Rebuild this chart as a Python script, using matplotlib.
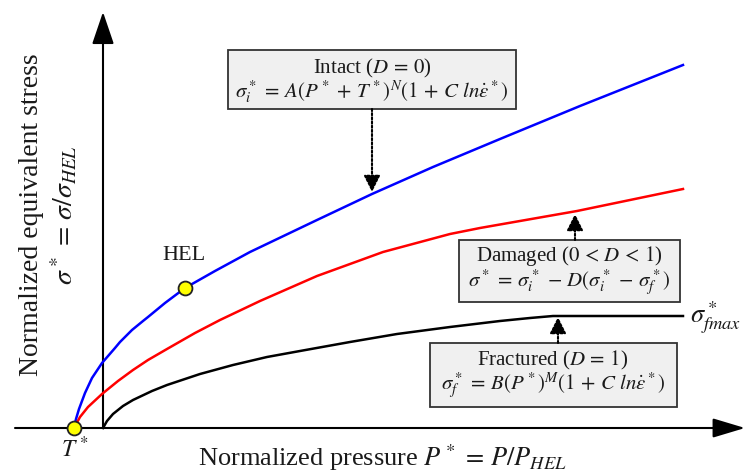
import matplotlib.pyplot as plt
from matplotlib.patches import Rectangle

plt.rcParams['font.family'] = ['Liberation Serif', 'DejaVu Serif']
plt.rcParams['mathtext.fontset'] = 'stix'

# normalized pressure P* (x) and stress sigma* (y)
intact_p = [-0.29, -0.27, -0.24, -0.18, -0.11, -0.01, 0.12, 0.17, 0.29, 0.40,
            0.45, 0.62, 0.82, 1.12, 1.47, 2.14, 2.69, 3.30, 3.97, 4.77, 5.80]
intact_s = [0.00, 0.09, 0.19, 0.35, 0.50, 0.65, 0.80, 0.86, 0.98, 1.07,
            1.11, 1.25, 1.40, 1.57, 1.76, 2.08, 2.34, 2.61, 2.89, 3.22, 3.63]

damaged_p = [-0.29, -0.23, -0.15, -0.01, 0.15, 0.30, 0.45, 0.64, 0.92, 1.17,
             1.57, 2.14, 2.80, 3.47, 3.77, 4.74, 5.80]
damaged_s = [0.00, 0.11, 0.21, 0.34, 0.47, 0.58, 0.68, 0.79, 0.95, 1.08,
             1.27, 1.52, 1.76, 1.94, 2.00, 2.17, 2.39]

fractured_p = [0.00, 0.04, 0.10, 0.20, 0.30, 0.49, 0.64, 0.82, 0.97, 1.30,
               1.64, 1.97, 2.47, 2.94, 3.47, 3.97, 4.27, 4.50, 5.80]
fractured_s = [0.00, 0.07, 0.14, 0.22, 0.28, 0.37, 0.43, 0.49, 0.54, 0.63,
               0.71, 0.77, 0.86, 0.94, 1.01, 1.07, 1.10, 1.12, 1.12]

t_star = (-0.29, 0.0)
hel = (0.82, 1.40)

fig = plt.figure(figsize=(7.45, 4.74), dpi=100)
ax = fig.add_axes([0, 0, 1, 1])
ax.set_xlim(-1.03, 6.42)
ax.set_ylim(-0.46, 4.28)
ax.axis('off')

txt = '#1a1a1a'

# axes with arrow heads
ax.annotate("", xy=(6.42, 0), xytext=(-0.88, 0),
            arrowprops=dict(arrowstyle="-|>,head_length=1.0,head_width=0.3",
                            mutation_scale=20, lw=1.5, color='black',
                            shrinkA=0, shrinkB=0))
ax.annotate("", xy=(0, 4.16), xytext=(0, 0),
            arrowprops=dict(arrowstyle="-|>,head_length=1.0,head_width=0.34",
                            mutation_scale=20, lw=1.5, color='black',
                            shrinkA=0, shrinkB=0))

# curves
ax.plot(intact_p, intact_s, color='#0000ff', lw=1.8, zorder=3)
ax.plot(damaged_p, damaged_s, color='#ff0000', lw=1.8, zorder=3)
ax.plot(fractured_p, fractured_s, color='black', lw=1.8, zorder=3)

ax.plot(*t_star, 'o', ms=10, mfc='#ffff00', mec='#222222', mew=1.3, zorder=5)
ax.plot(*hel, 'o', ms=10, mfc='#ffff00', mec='#222222', mew=1.3, zorder=5)

# boxes
box_kw = dict(facecolor='#f0f0f0', edgecolor='#333333', lw=1.3, zorder=4)
ax.add_patch(Rectangle((1.25, 3.19), 2.88, 0.59, **box_kw))
ax.add_patch(Rectangle((3.56, 1.26), 2.21, 0.62, **box_kw))
ax.add_patch(Rectangle((3.27, 0.21), 2.47, 0.64, **box_kw))

fs = 15
ax.text(2.69, 3.47,
        "Intact ($D\\,=\\,0$)\n"
        r"$\sigma_i^*\,=\,A(P^*\,+\,T^*)^N(1\,+\,C\ ln\dot{\varepsilon}^*)$",
        fontsize=fs, ha='center', va='center', multialignment='center',
        linespacing=0.95, color=txt, zorder=6)

ax.text(4.66, 1.57,
        "Damaged ($0\\,<\\,D\\,<\\,1$)\n"
        r"$\sigma^*\,=\,\sigma_i^*\,-\,D(\sigma_i^*\,-\,\sigma_f^*)$",
        fontsize=fs, ha='center', va='center', multialignment='center',
        linespacing=0.95, color=txt, zorder=6)

ax.text(4.50, 0.53,
        "Fractured ($D\\,=\\,1$)\n"
        r"$\sigma_f^*\,=\,B(P^*)^M(1\,+\,C\ ln\dot{\varepsilon}^*)$",
        fontsize=fs, ha='center', va='center', multialignment='center',
        linespacing=0.95, color=txt, zorder=6)

# dotted pointers
dot_kw = dict(arrowstyle="-|>,head_length=0.5,head_width=0.25", mutation_scale=20,
              lw=1.5, color='black', linestyle=(0, (1, 1)), shrinkA=0, shrinkB=0)
ax.annotate("", xy=(2.69, 2.36), xytext=(2.69, 3.19), arrowprops=dot_kw, zorder=6)
ax.annotate("", xy=(4.72, 2.14), xytext=(4.72, 1.88), arrowprops=dot_kw, zorder=6)
ax.annotate("", xy=(4.55, 1.11), xytext=(4.55, 0.85), arrowprops=dot_kw, zorder=6)

# labels
ax.text(5.87, 1.10, r"$\sigma_{fmax}^*$", fontsize=19, ha='left', va='center',
        color=txt)
ax.text(0.81, 1.73, "HEL", fontsize=16, ha='center', va='center', color=txt)
ax.text(-0.28, -0.21, r"$T^*$", fontsize=17, ha='center', va='center', color=txt)
ax.text(2.79, -0.30, r"Normalized pressure $P^*\,=\,P/P_{HEL}$", fontsize=19,
        ha='center', va='center', color=txt)
ax.text(-0.71, 2.13, "Normalized equivalent stress", fontsize=20, rotation=90,
        ha='center', va='center', color=txt)
ax.text(-0.39, 2.13, r"$\sigma^*\,=\,\sigma/\sigma_{HEL}$", fontsize=20, rotation=90,
        ha='center', va='center', color=txt)

fig.savefig("out.png", dpi=100)
